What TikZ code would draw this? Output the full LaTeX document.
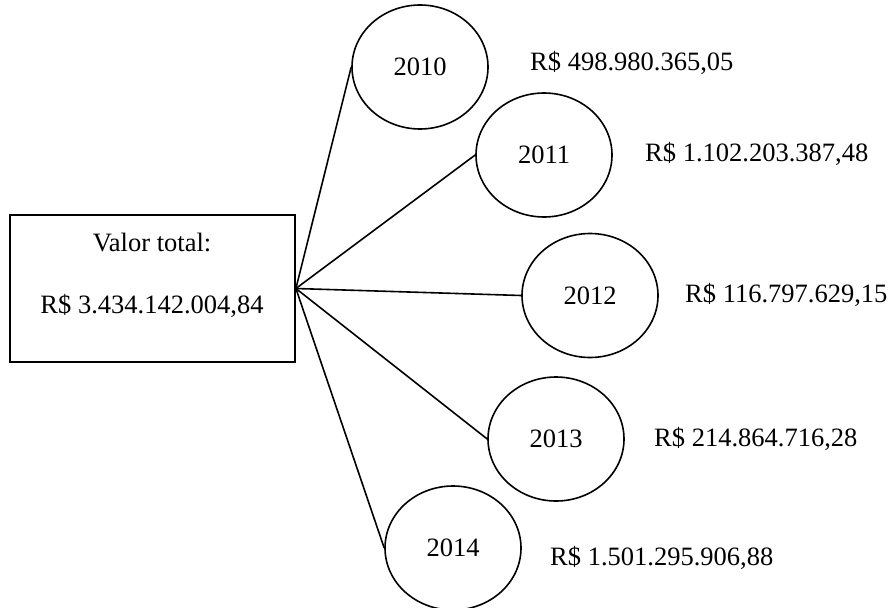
\documentclass[tikz,border=0pt]{standalone}
\usepackage{fontspec}
\setmainfont{Liberation Serif}
\usetikzlibrary{shapes.geometric}

\begin{document}
\begin{tikzpicture}[x=1pt, y=-1pt,
  every node/.style={font=\fontsize{26.5}{32}\selectfont, inner sep=0pt},
  yearnode/.style={draw, ellipse, line width=1.6pt, minimum width=136pt, minimum height=124pt},
  totalbox/.style={draw, rectangle, line width=1.8pt, minimum width=285pt, minimum height=147pt},
  valuelabel/.style={anchor=west},
  link/.style={line width=1.6pt}]
  \useasboundingbox (0,0) rectangle (893,607);

  % total box
  \node[totalbox] (total) at (152.5,288.5) {};
  \node (tlabel) at (152,243) {Valor total:};
  \node (tvalue) at (152,306) {R\$ 3.434.142.004,84};

  % yearly ellipses
  \node[yearnode] (y2010) at (420,67) {2010};
  \node[yearnode] (y2011) at (544,155) {2011};
  \node[yearnode] (y2012) at (590,295.5) {2012};
  \node[yearnode] (y2013) at (556,439) {2013};
  \node[yearnode] (y2014) at (453,548) {2014};

  % yearly values
  \node[valuelabel] (v2010) at (530,63) {R\$ 498.980.365,05};
  \node[valuelabel] (v2011) at (645,154) {R\$ 1.102.203.387,48};
  \node[valuelabel] (v2012) at (685,295) {R\$ 116.797.629,15};
  \node[valuelabel] (v2013) at (654,439) {R\$ 214.864.716,28};
  \node[valuelabel] (v2014) at (550,558) {R\$ 1.501.295.906,88};

  % connectors
  \foreach \y in {2010,2011,2012,2013,2014}
    \draw[link] (total.east) -- (y\y.west);
\end{tikzpicture}
\end{document}
